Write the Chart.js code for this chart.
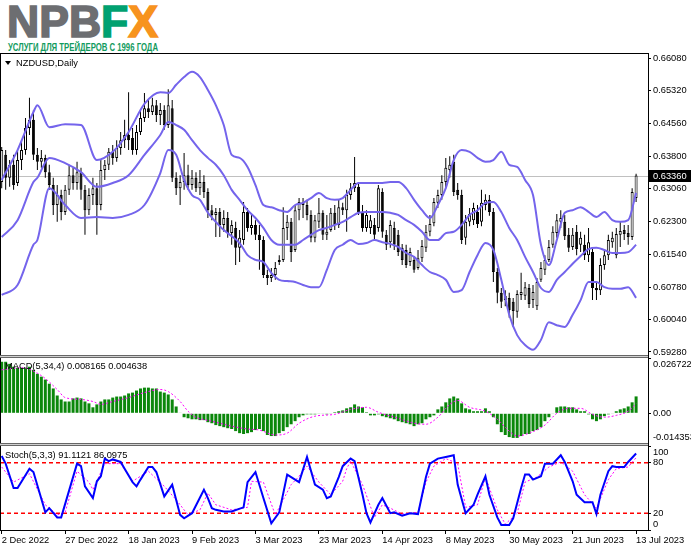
<!DOCTYPE html>
<html>
<head>
<meta charset="utf-8">
<title>NZDUSD Daily</title>
<script src="https://cdn.jsdelivr.net/npm/chart.js@4.4.1/dist/chart.umd.min.js"></script>
<style>
  html, body { margin:0; padding:0; background:#fff; }
  body { position:relative; width:691px; height:549px; overflow:hidden; font-family:"Liberation Sans", Arial, sans-serif; }
  canvas, .abs { position:absolute; left:0; }
  .ln { position:absolute; background:#000; }
  .sep { position:absolute; left:0; width:648px; height:3px; box-sizing:border-box; border-top:1px solid #666; border-bottom:1px solid #666; background:#d0d0d0; }
  .lbl { position:absolute; font-size:9.3px; line-height:12px; color:#000; white-space:nowrap; }
  .tri { position:absolute; width:0; height:0; border-left:3.5px solid transparent; border-right:3.5px solid transparent; border-top:4px solid #000; }
</style>
</head>
<body>
<svg class="abs" style="top:0" width="200" height="53">
  <text x="7" y="37" font-family="Liberation Sans, Arial, sans-serif" font-weight="bold" font-size="44" textLength="151" lengthAdjust="spacingAndGlyphs" stroke-width="1.6"><tspan fill="#6d6e71" stroke="#6d6e71">NPB</tspan><tspan fill="#00a170" stroke="#00a170">F</tspan><tspan fill="#f7931e" stroke="#f7931e">X</tspan></text>
  <text x="8" y="50.5" font-family="Liberation Sans Narrow, Liberation Sans, sans-serif" font-weight="bold" font-size="10.5" fill="#129b5e" textLength="150" lengthAdjust="spacingAndGlyphs">УСЛУГИ ДЛЯ ТРЕЙДЕРОВ С 1996 ГОДА</text>
</svg>

<canvas id="main" width="691" height="302" style="top:54px"></canvas>
<canvas id="macd" width="691" height="85" style="top:358px"></canvas>
<canvas id="stoch" width="691" height="103" style="top:446px"></canvas>

<div class="ln" style="left:0;top:53px;width:649px;height:1px"></div>
<div class="ln" style="left:0;top:53px;width:1px;height:477px"></div>
<div class="ln" style="left:648px;top:53px;width:1px;height:477px"></div>
<div class="sep" style="top:355px"></div>
<div class="sep" style="top:443px"></div>

<div class="tri" style="left:5px;top:61px"></div>
<div class="lbl" style="left:16px;top:57px">NZDUSD,Daily</div>
<div class="lbl" id="macdTitle" style="left:5px;top:360px"></div>
<div class="lbl" id="stochTitle" style="left:5px;top:449px"></div>

<script>
// ---- data ----
const dateLabels = ['2 Dec 2022','27 Dec 2022','18 Jan 2023','9 Feb 2023','3 Mar 2023','23 Mar 2023',
                    '14 Apr 2023','8 May 2023','30 May 2023','21 Jun 2023','13 Jul 2023'];
const dateIdx = [0,16,32,48,64,80,96,112,128,144,160];
const priceTicks = [0.6608,0.6532,0.6456,0.6380,0.6306,0.6230,0.6154,0.6078,0.6004,0.5928];

const open = [
.6321,.6384,.6331,.6361,.6319,.6372,.6395,.6446,.6465,.6384,
.6368,.6377,.6344,.6314,.6268,.6291,.6252,.6303,.6337,.6319,
.6344,.6303,.6256,.6291,.6307,.6268,.6349,.6361,.6391,.6377,
.6400,.6418,.6430,.6423,.6395,.6437,.6469,.6492,.6483,.6499,
.6476,.6488,.6453,.6492,.6331,.6307,.6321,.6337,.6314,.6331,
.6307,.6321,.6298,.6256,.6245,.6252,.6222,.6238,.6203,.6215,
.6169,.6187,.6252,.6215,.6222,.6199,.6187,.6106,.6099,.6106,
.6136,.6141,.6215,.6229,.6164,.6256,.6275,.6268,.6245,.6192,
.6229,.6250,.6199,.6210,.6250,.6222,.6263,.6256,.6291,.6307,
.6310,.6252,.6215,.6215,.6222,.6215,.6298,.6199,.6182,.6215,
.6199,.6169,.6164,.6136,.6141,.6122,.6145,.6169,.6206,.6226,
.6273,.6291,.6321,.6349,.6368,.6303,.6291,.6192,.6229,.6233,
.6252,.6229,.6268,.6280,.6252,.6113,.6065,.6048,.6053,.6044,
.6021,.6060,.6058,.6076,.6048,.6034,.6095,.6118,.6141,.6176,
.6203,.6229,.6229,.6199,.6171,.6206,.6176,.6176,.6152,.6159,
.6076,.6071,.6129,.6152,.6182,.6152,.6199,.6210,.6203,.6194,
.6284];
const high = [
.6402,.6395,.6372,.6384,.6395,.6418,.6469,.6516,.6488,.6400,
.6395,.6384,.6361,.6331,.6314,.6303,.6314,.6361,.6354,.6368,
.6354,.6314,.6307,.6331,.6319,.6372,.6372,.6400,.6407,.6418,
.6437,.6465,.6529,.6446,.6453,.6488,.6527,.6511,.6516,.6511,
.6504,.6499,.6536,.6511,.6344,.6337,.6388,.6361,.6349,.6344,
.6349,.6337,.6307,.6268,.6261,.6261,.6256,.6252,.6233,.6229,
.6210,.6275,.6261,.6245,.6233,.6222,.6196,.6118,.6122,.6136,
.6152,.6263,.6245,.6238,.6268,.6284,.6284,.6280,.6256,.6245,
.6284,.6256,.6245,.6261,.6268,.6280,.6273,.6303,.6319,.6379,
.6319,.6268,.6256,.6245,.6238,.6314,.6307,.6210,.6233,.6229,
.6210,.6178,.6176,.6169,.6150,.6164,.6187,.6222,.6245,.6284,
.6303,.6337,.6377,.6381,.6384,.6319,.6303,.6245,.6261,.6273,
.6268,.6303,.6293,.6291,.6261,.6122,.6076,.6071,.6065,.6053,
.6071,.6111,.6090,.6085,.6083,.6099,.6136,.6152,.6187,.6219,
.6247,.6256,.6245,.6215,.6215,.6222,.6206,.6199,.6215,.6169,
.6090,.6145,.6164,.6199,.6206,.6215,.6229,.6222,.6222,.6307,
.6340];
const low = [
.6307,.6303,.6310,.6303,.6312,.6349,.6384,.6430,.6372,.6349,
.6354,.6331,.6303,.6245,.6229,.6233,.6245,.6291,.6303,.6303,
.6280,.6199,.6245,.6268,.6199,.6256,.6326,.6349,.6361,.6368,
.6384,.6400,.6395,.6384,.6384,.6430,.6460,.6469,.6476,.6460,
.6453,.6442,.6446,.6321,.6291,.6268,.6303,.6303,.6303,.6298,
.6291,.6284,.6238,.6233,.6194,.6194,.6206,.6192,.6176,.6129,
.6136,.6176,.6206,.6199,.6187,.6118,.6099,.6083,.6090,.6095,
.6129,.6136,.6187,.6136,.6159,.6233,.6238,.6233,.6182,.6182,
.6215,.6187,.6187,.6206,.6210,.6215,.6245,.6206,.6280,.6298,
.6245,.6206,.6206,.6201,.6187,.6206,.6192,.6164,.6169,.6164,
.6150,.6129,.6122,.6127,.6111,.6118,.6136,.6159,.6196,.6219,
.6261,.6280,.6307,.6331,.6289,.6280,.6178,.6176,.6219,.6222,
.6215,.6219,.6256,.6243,.6090,.6041,.6030,.6034,.6007,.5986,
.6007,.6048,.6048,.6030,.6030,.6025,.6090,.6106,.6136,.6169,
.6192,.6215,.6187,.6159,.6164,.6152,.6159,.6141,.6136,.6048,
.6048,.6060,.6118,.6141,.6169,.6145,.6171,.6187,.6176,.6187,
.6275];
const close = [
.6395,.6331,.6361,.6314,.6372,.6395,.6446,.6465,.6384,.6368,
.6377,.6344,.6314,.6268,.6291,.6252,.6303,.6337,.6319,.6344,
.6303,.6256,.6291,.6307,.6268,.6349,.6361,.6391,.6377,.6400,
.6418,.6430,.6418,.6395,.6437,.6469,.6492,.6483,.6499,.6476,
.6488,.6453,.6499,.6331,.6307,.6321,.6337,.6314,.6331,.6307,
.6321,.6298,.6256,.6245,.6252,.6222,.6238,.6203,.6222,.6169,
.6192,.6252,.6215,.6222,.6199,.6187,.6106,.6099,.6106,.6122,
.6141,.6215,.6229,.6159,.6256,.6275,.6268,.6245,.6192,.6233,
.6250,.6199,.6206,.6250,.6222,.6263,.6256,.6291,.6307,.6319,
.6252,.6215,.6245,.6233,.6199,.6307,.6206,.6176,.6222,.6176,
.6159,.6141,.6129,.6159,.6118,.6145,.6173,.6206,.6224,.6275,
.6291,.6321,.6354,.6361,.6298,.6291,.6187,.6229,.6247,.6261,
.6224,.6273,.6280,.6252,.6113,.6065,.6044,.6058,.6025,.6023,
.6062,.6067,.6078,.6039,.6067,.6090,.6122,.6141,.6171,.6206,
.6233,.6238,.6196,.6169,.6199,.6166,.6192,.6152,.6182,.6076,
.6071,.6129,.6152,.6187,.6192,.6201,.6208,.6201,.6194,.6298,
.6336];

// Bollinger bands, read every few bars
const bbIdx = [0,4,8,9,12,16,20,24,28,32,36,40,42,44,46,48,50,52,54,56,58,60,62,64,66,68,70,72,74,76,
  78,80,82,84,86,88,90,92,94,96,98,100,102,104,106,108,110,112,114,116,118,120,122,124,126,128,130,132,134,136,
  138,140,142,144,146,148,150,152,154,156,158,160];
const bbUpper = [
.6326,.6395,.6483,.6499,.6448,.6455,.6453,.6372,.6391,.6437,
.6502,.6529,.6527,.6546,.6564,.6576,.6564,.6534,.6499,.6453,
.6384,.6377,.6356,.6314,.6268,.6263,.6256,.6252,.6268,.6273,
.6284,.6296,.6284,.6280,.6284,.6303,.6319,.6319,.6319,.6319,
.6321,.6321,.6307,.6280,.6256,.6238,.6268,.6307,.6372,.6395,
.6391,.6377,.6368,.6372,.6391,.6361,.6356,.6326,.6291,.6176,
.6129,.6187,.6250,.6256,.6263,.6252,.6240,.6252,.6233,.6229,
.6233,.6296];
const bbMiddle = [
.6194,.6233,.6321,.6331,.6377,.6365,.6344,.6310,.6319,.6337,
.6384,.6430,.6460,.6453,.6442,.6418,.6395,.6377,.6361,.6337,
.6303,.6280,.6256,.6238,.6215,.6187,.6176,.6176,.6176,.6187,
.6199,.6210,.6215,.6222,.6229,.6240,.6250,.6252,.6252,.6252,
.6250,.6245,.6233,.6222,.6206,.6187,.6187,.6203,.6206,.6222,
.6245,.6256,.6273,.6275,.6252,.6215,.6187,.6148,.6113,.6076,
.6067,.6095,.6113,.6132,.6150,.6166,.6169,.6164,.6157,.6157,
.6159,.6176];
const bbLower = [
.6060,.6083,.6176,.6187,.6307,.6268,.6238,.6240,.6238,.6245,
.6268,.6342,.6395,.6384,.6326,.6291,.6280,.6250,.6229,.6210,
.6196,.6180,.6152,.6141,.6136,.6111,.6095,.6092,.6090,.6083,
.6078,.6078,.6118,.6164,.6176,.6187,.6178,.6180,.6187,.6182,
.6178,.6171,.6157,.6148,.6129,.6113,.6106,.6095,.6067,.6071,
.6113,.6152,.6180,.6164,.6095,.6014,.5967,.5944,.5933,.5956,
.5997,.5990,.5986,.6014,.6048,.6090,.6090,.6078,.6074,.6074,
.6078,.6053];

// MACD(5,34,4)
const macdMain = [
.0249,.0249,.0239,.0225,.0220,.0220,.0220,.0225,.0210,.0191,
.0177,.0163,.0143,.0120,.0086,.0067,.0057,.0057,.0072,.0076,
.0072,.0057,.0048,.0029,.0043,.0057,.0067,.0067,.0076,.0081,
.0081,.0086,.0096,.0100,.0110,.0120,.0124,.0124,.0120,.0120,
.0105,.0100,.0091,.0067,.0033,.0002,-.0019,-.0024,-.0029,-.0029,
-.0033,-.0033,-.0043,-.0048,-.0057,-.0062,-.0067,-.0072,-.0076,-.0086,
-.0096,-.0100,-.0096,-.0091,-.0081,-.0076,-.0086,-.0105,-.0110,-.0110,
-.0096,-.0086,-.0067,-.0053,-.0038,-.0019,-.0010,-.0005,-.0005,-.0005,
-.0003,-.0003,-.0005,-.0003,.0005,.0010,.0014,.0024,.0029,.0043,
.0033,.0029,.0005,-.0010,-.0010,-.0005,-.0014,-.0019,-.0024,-.0029,
-.0038,-.0043,-.0048,-.0053,-.0062,-.0053,-.0048,-.0029,-.0019,-.0010,
.0019,.0033,.0053,.0072,.0081,.0072,.0048,.0024,.0019,.0010,
.0010,.0010,.0024,.0010,-.0019,-.0053,-.0091,-.0105,-.0115,-.0119,
-.0119,-.0110,-.0100,-.0100,-.0086,-.0081,-.0067,-.0038,-.0019,-.0002,
.0029,.0033,.0033,.0029,.0029,.0019,.0010,.0010,-.0005,-.0029,
-.0038,-.0029,-.0014,-.0005,-.0002,.0010,.0019,.0024,.0033,.0053,
.008165];
const macdSigIdx = [0,5,10,14,16,20,23,25,28,32,36,40,42,45,47,49,53,58,62,65,69,72,75,79,84,88,92,95,100,104,
  107,110,113,115,118,122,125,128,130,133,137,140,143,146,149,152,155,158,160];
const macdSignal = [.0210,.0220,.0182,.0115,.0076,.0067,.0057,.0043,.0057,.0076,
  .0100,.0115,.0105,.0057,.0010,-.0019,-.0038,-.0062,-.0076,-.0081,
  -.0105,-.0096,-.0048,-.0014,-.0005,.0019,.0029,.0005,-.0024,-.0048,
  -.0053,-.0019,.0043,.0062,.0029,.0010,-.0029,-.0086,-.0110,-.0096,
  -.0057,0,.0024,.0024,-.0005,-.0019,-.0010,.0010,.004638];
const macdTicks = [0.026722, 0, -0.014353];
const macdTickText = ['0.026722', '0.00', '-0.014353'];

// Stochastic(5,3,3)
const stochIdx = [0,1,3,4,7,8,11,12,14,15,19,20,21,23,24,25,26,27,28,30,31,33,34,35,37,38,39,41,43,45,
  46,48,51,52,53,54,56,58,61,62,64,66,68,70,72,73,75,77,79,81,82,83,85,86,88,89,91,92,93,95,
  96,98,99,101,103,105,107,108,110,112,114,115,117,119,120,122,123,125,126,128,129,131,132,133,134,136,137,139,141,142,
  144,145,147,149,150,151,153,154,155,157,158,160];
const stochMain = [88,79,50,50,73,69,21,26,15,15,79,76,52,38,58,64,85,82,84,81,73,57,52,60,75,75,69,40,54,18,
  14,20,48,38,26,24,22,22,27,57,69,38,8,21,66,63,57,87,54,48,38,40,63,76,85,82,42,20,9,30,
  38,20,21,17,20,19,63,79,85,87,89,54,20,30,42,64,42,15,6,6,14,50,66,66,60,64,79,79,89,81,
  58,42,33,33,19,42,70,76,75,75,81,91.1121];
const stochSigIdx = [0,3,7,11,14,16,19,22,23,26,30,33,37,41,44,47,50,52,54,58,62,63,66,69,73,75,77,80,83,86,
  87,88,91,94,96,98,101,105,107,109,112,115,117,120,122,125,127,130,132,135,138,141,144,147,150,153,155,158,160];
const stochSignal = [75,57,67,30,18,21,70,57,48,79,79,58,70,52,36,18,24,44,30,24,27,58,57,18,54,64,76,57,42,58,
  73,82,54,15,30,26,19,21,57,76,85,79,27,30,63,24,7,20,57,63,75,81,70,42,26,60,73,75,86.0975];
const stochTicks = [100, 80, 20, 0];
const stochLevels = [80, 20];

// ---- drawing ----
const X_MIN = -0.43, X_MAX = 163;
const PRICE_MIN = 0.59187, PRICE_MAX = 0.66173;
const FONT = { family: '"Liberation Sans", Arial, sans-serif', size: 9.3 };
const FONT_CSS = '9.3px "Liberation Sans", Arial, sans-serif';
const BAND = '#7464ec';
const lastPrice = close[close.length - 1];

document.getElementById('macdTitle').textContent =
  `MACD(5,34,4) ${macdMain[macdMain.length - 1].toFixed(6)} ${macdSignal[macdSignal.length - 1].toFixed(6)}`;
document.getElementById('stochTitle').textContent =
  `Stoch(5,3,3) ${stochMain[stochMain.length - 1].toFixed(4)} ${stochSignal[stochSignal.length - 1].toFixed(4)}`;

function pts(xs, ys) { return xs.map((x, k) => ({ x: x, y: ys[k] })); }

function xAxis(display) {
  return {
    type: 'linear', min: X_MIN, max: X_MAX, offset: false, display: display,
    afterBuildTicks: s => { s.ticks = dateIdx.map(v => ({ value: v })); },
    afterFit: s => {
      s.height = display ? 19 : 0;
      s.paddingLeft = 0; s.paddingRight = 0;
    },
    grid: { drawOnChartArea: false, tickLength: 4, color: '#000' },
    border: { color: '#000' },
    ticks: {
      autoSkip: false, maxRotation: 0, minRotation: 0, align: 'start', padding: 1,
      color: '#000', font: FONT,
      callback: v => { const k = dateIdx.indexOf(v); return k < 0 ? '' : dateLabels[k]; }
    }
  };
}

function yAxis(min, max, tickVals, showLabels) {
  return {
    type: 'linear', position: 'right', min: min, max: max,
    afterBuildTicks: s => { s.ticks = tickVals.map(v => ({ value: v })); },
    afterFit: s => { s.width = 43; s.paddingTop = 0; s.paddingBottom = 0; },
    grid: { drawOnChartArea: false, tickLength: 3, color: '#000' },
    border: { color: '#000' },
    ticks: { display: showLabels, padding: 2, color: '#000', font: FONT, callback: v => v.toFixed(5) }
  };
}

const baseOptions = {
  responsive: false, animation: false, events: [],
  layout: { padding: 0, autoPadding: false },
  plugins: { legend: { display: false }, tooltip: { enabled: false } }
};

// labels inside the indicator windows, kept off the edges like the terminal does
const sideLabels = {
  id: 'sideLabels',
  afterDraw(chart, args, opts) {
    const y = chart.scales.y, a = chart.chartArea, ctx = chart.ctx;
    ctx.save();
    ctx.font = FONT_CSS; ctx.fillStyle = '#000'; ctx.textBaseline = 'middle'; ctx.textAlign = 'left';
    opts.values.forEach((v, k) => {
      const py = Math.min(Math.max(y.getPixelForValue(v), a.top + 6), a.bottom - 6);
      ctx.fillText(opts.texts[k], y.left + 5, py);
    });
    ctx.restore();
  }
};

const levelLines = {
  id: 'levelLines',
  beforeDatasetsDraw(chart, args, opts) {
    const y = chart.scales.y, a = chart.chartArea, ctx = chart.ctx;
    ctx.save();
    ctx.strokeStyle = 'rgb(255,0,0)'; ctx.lineWidth = 1.5; ctx.setLineDash([4, 3]);
    opts.levels.forEach(v => {
      const py = y.getPixelForValue(v);
      ctx.beginPath(); ctx.moveTo(a.left, py); ctx.lineTo(a.right, py); ctx.stroke();
    });
    ctx.restore();
  }
};

const priceLine = {
  id: 'priceLine',
  beforeDatasetsDraw(chart) {
    const y = chart.scales.y, a = chart.chartArea, ctx = chart.ctx;
    const py = Math.round(y.getPixelForValue(lastPrice)) + 0.5;
    ctx.save();
    ctx.strokeStyle = '#c0c0c0'; ctx.lineWidth = 1;
    ctx.beginPath(); ctx.moveTo(a.left, py); ctx.lineTo(a.right, py); ctx.stroke();
    ctx.restore();
  },
  afterDraw(chart) {
    const y = chart.scales.y, ctx = chart.ctx;
    const py = Math.round(y.getPixelForValue(lastPrice));
    ctx.save();
    ctx.fillStyle = '#000'; ctx.fillRect(y.left + 1, py - 6, 42, 12);
    ctx.fillStyle = '#fff'; ctx.font = FONT_CSS; ctx.textBaseline = 'middle'; ctx.textAlign = 'left';
    ctx.fillText(lastPrice.toFixed(5), y.left + 5, py + 0.5);
    ctx.restore();
  }
};

const bars = close.map((c, i) => i);

function bandSet(values) {
  return {
    type: 'line', data: pts(bbIdx, values), borderColor: BAND, borderWidth: 2,
    pointRadius: 0, cubicInterpolationMode: 'monotone', order: 0
  };
}

new Chart(document.getElementById('main'), {
  type: 'bar',
  data: {
    datasets: [
      bandSet(bbUpper), bandSet(bbMiddle), bandSet(bbLower),
      {
        type: 'bar', data: bars.map(i => ({ x: i, y: [low[i], high[i]] })),
        backgroundColor: '#000', barThickness: 1, grouped: false, inflateAmount: 0, order: 2
      },
      {
        type: 'bar', data: bars.map(i => ({ x: i, y: [open[i], close[i]] })),
        backgroundColor: c => (c.raw && c.raw.y[1] >= c.raw.y[0]) ? '#ffffff' : '#000000',
        borderColor: '#000', borderWidth: 1, borderSkipped: false,
        barThickness: 3, grouped: false, inflateAmount: 0, minBarLength: 1, order: 1
      }
    ]
  },
  options: Object.assign({}, baseOptions, {
    scales: { x: xAxis(false), y: yAxis(PRICE_MIN, PRICE_MAX, priceTicks, true) }
  }),
  plugins: [priceLine]
});

new Chart(document.getElementById('macd'), {
  type: 'bar',
  data: {
    datasets: [
      {
        type: 'bar', data: macdMain.map((v, i) => ({ x: i, y: v })),
        backgroundColor: '#0b870b', barThickness: 3, grouped: false, inflateAmount: 0, order: 2
      },
      {
        type: 'line', data: pts(macdSigIdx, macdSignal), borderColor: '#ff00ff', borderWidth: 1,
        borderDash: [2, 2], pointRadius: 0, cubicInterpolationMode: 'monotone', order: 1
      }
    ]
  },
  options: Object.assign({}, baseOptions, {
    scales: { x: xAxis(false), y: yAxis(macdTicks[2], macdTicks[0], macdTicks, false) },
    plugins: Object.assign({}, baseOptions.plugins, { sideLabels: { values: macdTicks, texts: macdTickText } })
  }),
  plugins: [sideLabels]
});

new Chart(document.getElementById('stoch'), {
  type: 'line',
  data: {
    datasets: [
      {
        data: pts(stochSigIdx, stochSignal), borderColor: '#ff00ff', borderWidth: 1,
        borderDash: [2, 2], pointRadius: 0, tension: 0, order: 2
      },
      {
        data: pts(stochIdx, stochMain), borderColor: '#0000ff', borderWidth: 2,
        pointRadius: 0, tension: 0, order: 1
      }
    ]
  },
  options: Object.assign({}, baseOptions, {
    scales: { x: xAxis(true), y: yAxis(0, 100, stochTicks, false) },
    plugins: Object.assign({}, baseOptions.plugins, {
      sideLabels: { values: stochTicks, texts: stochTicks.map(String) },
      levelLines: { levels: stochLevels }
    })
  }),
  plugins: [sideLabels, levelLines]
});
</script>
</body>
</html>
